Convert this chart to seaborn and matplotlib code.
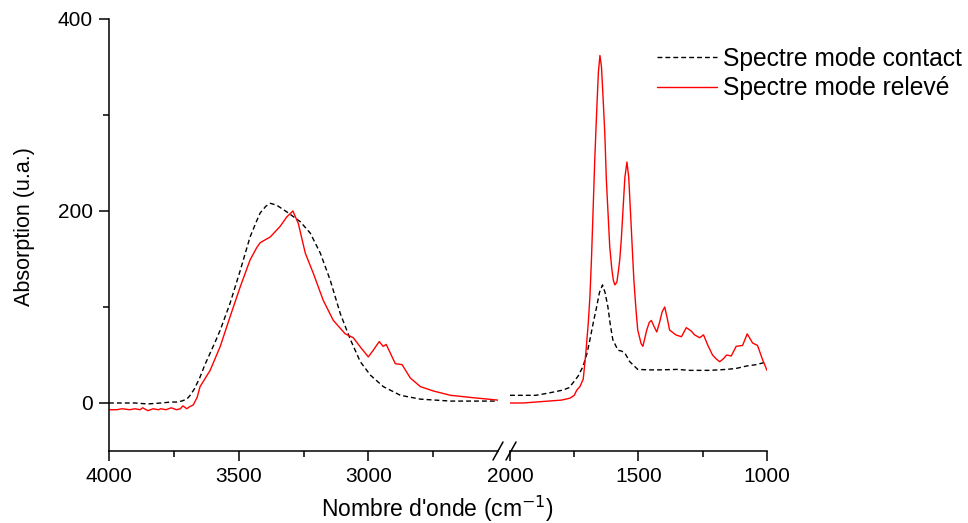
"""FTIR spectra, contact vs raised mode, with broken wavenumber axis."""

import numpy as np
import pandas as pd
import matplotlib
matplotlib.use("Agg")
import matplotlib.pyplot as plt
import seaborn as sns

sns.set_style("ticks")
plt.rcParams['font.family'] = ['Liberation Sans', 'DejaVu Sans']
plt.rcParams['xtick.labelsize'] = 15
plt.rcParams['ytick.labelsize'] = 15
plt.rcParams['xtick.color'] = 'black'
plt.rcParams['ytick.color'] = 'black'
plt.rcParams['text.color'] = 'black'
plt.rcParams['axes.labelcolor'] = 'black'
plt.rcParams['axes.edgecolor'] = 'black'

# Spectre mode contact (black), high wavenumber part 4000-2500
wn_contact_hi = [4000, 3950, 3900, 3850, 3800, 3760, 3739, 3720, 3700, 3687, 3670, 3649, 3630,
                 3610, 3590, 3571, 3533, 3494, 3456, 3430, 3417, 3395, 3378, 3353, 3314,
                 3263, 3224, 3185, 3147, 3108, 3069, 3031, 2992, 2942, 2876, 2799, 2683, 2600, 2500]
ab_contact_hi = [0, 0, 0, -1, 0, 1, 1, 2, 4, 8, 15, 27, 40,
                 52, 64, 76, 104, 138, 173, 190, 198, 205, 208, 206, 199,
                 189, 177, 156, 128, 93, 66, 43, 29, 17, 8, 4, 2, 2, 2]

# Spectre mode relevé (red), high wavenumber part
wn_releve_hi = [4000, 3970, 3950, 3920, 3900, 3880, 3870, 3850, 3830, 3810, 3800, 3780, 3760,
                3740, 3725, 3715, 3700, 3690, 3675, 3660, 3649, 3610, 3571, 3533, 3494,
                3456, 3430, 3417, 3378, 3340, 3314, 3291, 3270, 3243, 3212, 3174, 3135,
                3089, 3058, 3030, 3000, 2981, 2958, 2943, 2931, 2896, 2870, 2838, 2799,
                2749, 2683, 2595, 2500]
ab_releve_hi = [-7, -7, -6, -7, -6, -7, -5, -8, -6, -7, -6, -7, -5,
                -7, -6, -3, -6, -4, -2, 6, 17, 34, 59, 90, 121,
                149, 162, 167, 173, 184, 194, 200, 187, 156, 135, 107, 86,
                72, 68, 58, 48, 55, 64, 59, 61, 41, 40, 26, 17,
                12.5, 8, 5.5, 3]

# Low wavenumber part 2000-1000
wn_contact_lo = [2000, 1950, 1900, 1857, 1820, 1794, 1770, 1755, 1735, 1716, 1700, 1689,
                 1675, 1663, 1652, 1640, 1630, 1619, 1610, 1600, 1580, 1565, 1553, 1534,
                 1503, 1460, 1417, 1350, 1300, 1223, 1157, 1120, 1080, 1040, 1000]
ab_contact_lo = [8, 8, 8, 10, 12, 13.5, 16, 21, 28, 38, 52, 66,
                 85, 100, 115, 123, 115, 100, 82, 66, 55, 54, 52, 43,
                 35, 34.5, 34.5, 35, 34, 34, 35, 36, 38.5, 40, 43]

wn_releve_lo = [2000, 1950, 1900, 1850, 1800, 1767, 1750, 1740, 1728, 1715, 1709, 1704, 1695,
                1689, 1683, 1677, 1670, 1663, 1656, 1650, 1644, 1638, 1631, 1625, 1618,
                1612, 1604, 1598, 1592, 1584, 1578, 1573, 1567, 1561, 1553, 1545, 1538,
                1531, 1524, 1518, 1510, 1503, 1490, 1483, 1475, 1468, 1458, 1450, 1440,
                1429, 1418, 1408, 1398, 1388, 1379, 1355, 1333, 1314, 1295, 1282, 1262,
                1247, 1230, 1212, 1198, 1184, 1170, 1157, 1139, 1120, 1095, 1077, 1056,
                1037, 1017, 1000]
ab_releve_lo = [0, 0, 1, 2, 3, 5, 8, 13.5, 17, 25, 41, 55, 85,
                111, 150, 198, 255, 302, 345, 362, 350, 319, 280, 232, 195,
                163, 140, 128, 123, 126, 138, 149, 170, 198, 235, 251, 235,
                198, 160, 128, 98, 76, 62, 59, 68, 76, 84, 86, 80,
                74, 84, 95, 100, 88, 76, 71, 69, 78.5, 75,
                71, 68, 71, 60, 50, 46, 43, 46, 50, 49, 59, 60, 72, 62.5,
                60, 45, 34]

label_contact = "Spectre mode contact"
label_releve = "Spectre mode relevé"

df_hi = pd.concat([
    pd.DataFrame({'wn': wn_contact_hi, 'ab': ab_contact_hi, 'spectre': label_contact}),
    pd.DataFrame({'wn': wn_releve_hi, 'ab': ab_releve_hi, 'spectre': label_releve}),
])
df_lo = pd.concat([
    pd.DataFrame({'wn': wn_contact_lo, 'ab': ab_contact_lo, 'spectre': label_contact}),
    pd.DataFrame({'wn': wn_releve_lo, 'ab': ab_releve_lo, 'spectre': label_releve}),
])

palette = {label_contact: 'black', label_releve: '#ff0000'}
dashes = {label_contact: (3.5, 2.2), label_releve: ''}

fig = plt.figure(figsize=(9.68, 5.23), dpi=100)
ax1 = fig.add_axes([109 / 968, 1 - 451 / 523, 389 / 968, 432 / 523])
ax2 = fig.add_axes([510 / 968, 1 - 451 / 523, 257 / 968, 432 / 523], sharey=ax1)

for ax, df in [(ax1, df_hi), (ax2, df_lo)]:
    sns.lineplot(data=df, x='wn', y='ab', hue='spectre', style='spectre',
                 palette=palette, dashes=dashes, sort=False, estimator=None,
                 linewidth=1.0, ax=ax, legend=(ax is ax2))

ax1.set_xlim(4000, 2500)
ax2.set_xlim(2000, 1000)
ax1.set_ylim(-50, 400)

ax1.set_xticks([4000, 3500, 3000])
ax1.set_xticks([3750, 3250, 2750], minor=True)
ax2.set_xticks([2000, 1500, 1000])
ax2.set_xticks([1750, 1250], minor=True)
ax1.set_yticks([0, 200, 400])
ax1.set_yticks([100, 300], minor=True)

for ax in (ax1, ax2):
    ax.tick_params(which='major', length=7.5, width=1.1, pad=4, color='black')
    ax.tick_params(which='minor', length=4, width=1.1, color='black')
    for sp in ax.spines.values():
        sp.set_linewidth(1.1)
    ax.set_xlabel('')
    ax.set_ylabel('')

sns.despine(ax=ax1)
sns.despine(ax=ax2, left=True)
ax2.tick_params(axis='y', which='both', left=False, labelleft=False)

ax1.set_ylabel('Absorption (u.a.)', fontsize=15.5)
ax1.yaxis.set_label_coords(-0.19, 0.52)
fig.text(437 / 968, 1 - 517 / 523, "Nombre d'onde (cm$^{-1}$)", fontsize=16.5,
         ha='center', va='baseline')

# axis break marks
for xp in (498, 511):
    fig.add_artist(plt.Line2D([(xp - 5) / 968, (xp + 5) / 968],
                              [1 - 460 / 523, 1 - 442 / 523],
                              color='black', lw=1.1))

leg = ax2.legend(loc='upper left', bbox_to_anchor=(657 / 968, 1 - 47 / 523),
                 bbox_transform=fig.transFigure, frameon=False, fontsize=17.7,
                 handlelength=2.45, handletextpad=0.25, labelspacing=0.22, borderpad=0,
                 borderaxespad=0)
for line in leg.get_lines():
    line.set_linewidth(1.0)

fig.savefig('out.png', dpi=100)
